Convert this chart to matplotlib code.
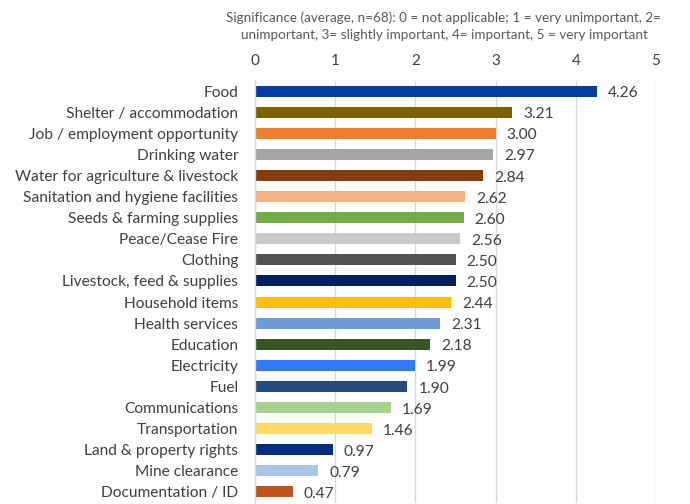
import matplotlib
matplotlib.use("Agg")
import matplotlib.pyplot as plt

categories = ["Food", "Shelter / accommodation", "Job / employment opportunity",
              "Drinking water", "Water for agriculture & livestock",
              "Sanitation and hygiene facilities", "Seeds & farming supplies",
              "Peace/Cease Fire", "Clothing", "Livestock, feed & supplies",
              "Household items", "Health services", "Education", "Electricity",
              "Fuel", "Communications", "Transportation", "Land & property rights",
              "Mine clearance", "Documentation / ID"]
values = [4.26, 3.21, 3.00, 2.97, 2.84, 2.62, 2.60, 2.56, 2.50, 2.50,
          2.44, 2.31, 2.18, 1.99, 1.90, 1.69, 1.46, 0.97, 0.79, 0.47]
colors = ["#003DA5", "#7F6000", "#ED7D31", "#A5A5A5", "#843C0C", "#F4B183",
          "#70AD47", "#C9C9C9", "#525252", "#002060", "#FFC000", "#6F9BD4",
          "#375623", "#3179FF", "#264A7E", "#A9D18E", "#FFD966", "#002F7F",
          "#A9C4E6", "#C0531A"]
xticks = [0, 1, 2, 3, 4, 5]
title = ("Significance (average, n=68): 0 = not applicable; 1 = very unimportant, 2=\n"
         "unimportant, 3= slightly important, 4= important, 5 = very important")

plt.rcParams['font.family'] = ['Lato', 'DejaVu Sans']
fig = plt.figure(figsize=(6.9, 5.04), dpi=100)
ax = fig.add_axes([255/690, 1 - 502.5/504, (656-255)/690, (502.5-80.5)/504])

y = list(range(len(categories)))
ax.barh(y, values, height=0.52, color=colors, zorder=3)
ax.set_ylim(len(categories) - 0.5, -0.5)
ax.set_xlim(0, 5)
ax.set_yticks(y)
ax.set_yticklabels(categories, fontsize=11.2, color="#404040")
ax.set_xticks(xticks)
ax.set_xticklabels([str(t) for t in xticks], fontsize=11, color="#404040")
ax.xaxis.tick_top()
ax.tick_params(axis='y', length=0, pad=12)
ax.tick_params(axis='x', length=0, pad=9)
ax.grid(axis='x', color="#D9D9D9", linewidth=1, zorder=0)
for s in ["top", "right", "bottom"]:
    ax.spines[s].set_visible(False)
ax.spines["left"].set_color("#D9D9D9")
ax.spines["left"].set_linewidth(1)
ax.spines["left"].set_zorder(4)

for yi, v in zip(y, values):
    ax.annotate(f"{v:.2f}", xy=(v, yi), xytext=(8, -1.5), textcoords="offset points",
                va="center", ha="left", fontsize=11.2, color="#404040")

fig.text(444/690, 1 - 26/504, title, ha="center", va="center", fontsize=9.7,
         color="#595959", linespacing=1.55)

fig.savefig("out.png", dpi=100)
